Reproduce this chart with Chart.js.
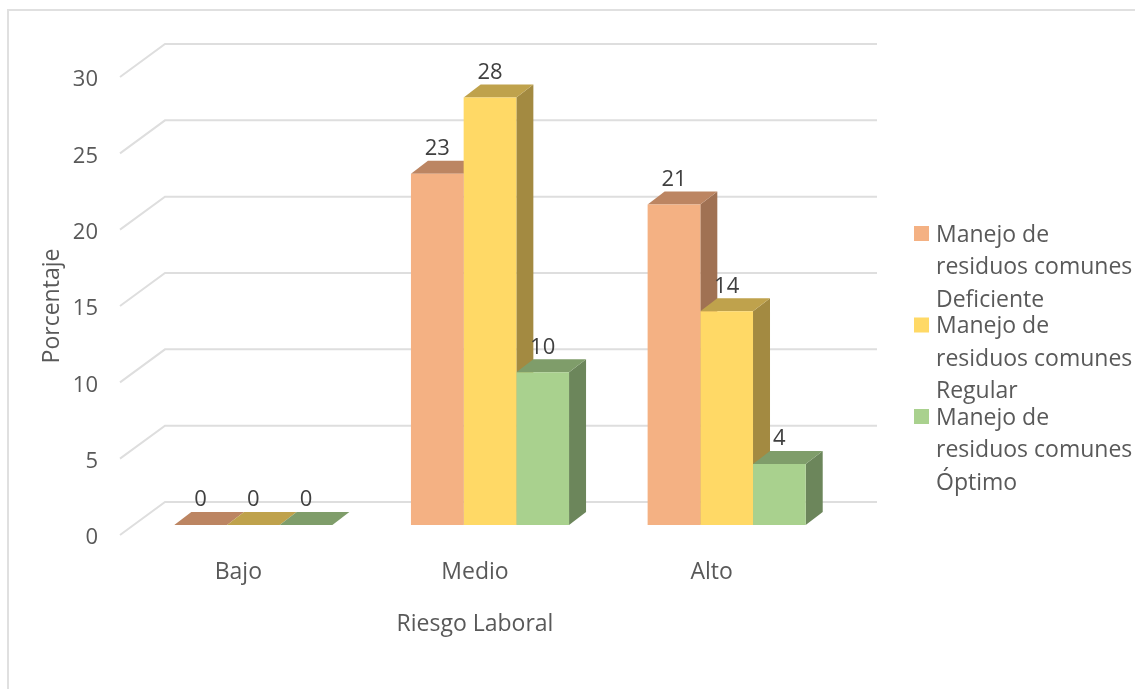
<!DOCTYPE html>
<html lang="es">
  <head>
    <meta charset="UTF-8">
    <title>Riesgo Laboral</title>
    <style>
      html, body { margin: 0; padding: 0; background: #fff; }
      canvas { display: block; }
    </style>
    <script src="https://cdn.jsdelivr.net/npm/chart.js"></script>
  </head>

  <body>
    <canvas id="myChart" width="1135" height="689"></canvas>

<script>
  const categories = ['Bajo', 'Medio', 'Alto'];
  const deficiente = [0, 23, 21];
  const regular = [0, 28, 14];
  const optimo = [0, 10, 4];

  const legendLines = [
    ['Manejo de', 'residuos comunes', 'Deficiente'],
    ['Manejo de', 'residuos comunes', 'Regular'],
    ['Manejo de', 'residuos comunes', 'Óptimo'],
  ];

  const frontColors = ['#F4B183', '#FFD966', '#A9D18E'];
  const topColors = ['#BC8562', '#BFA24C', '#7F9D6A'];
  const sideColors = ['#A07153', '#A38A41', '#6C865B'];

  const fontName = '"Open Sans", sans-serif';

  // the bars stand part way into the floor, the wall is at the back of it
  const barShift = { x: 15, y: -10 };
  const depth = { x: 17, y: -13 };
  const wall = { x: 45, y: -33, right: 877 };

  function face(ctx, color, points) {
    ctx.fillStyle = color;
    ctx.beginPath();
    points.forEach((p, i) => i ? ctx.lineTo(p[0], p[1]) : ctx.moveTo(p[0], p[1]));
    ctx.closePath();
    ctx.fill();
  }

  const box3d = {
    id: 'box3d',
    beforeDraw(chart) {
      const ctx = chart.ctx;
      ctx.save();
      // chart frame
      ctx.strokeStyle = '#E0E0E0';
      ctx.lineWidth = 2;
      ctx.beginPath();
      ctx.moveTo(8, 689);
      ctx.lineTo(8, 10);
      ctx.lineTo(1135, 10);
      ctx.stroke();

      // wall lines, one per tick of the y axis
      const area = chart.chartArea;
      const y = chart.scales.y;
      ctx.strokeStyle = '#DEDEDE';
      y.ticks.forEach((t) => {
        const py = y.getPixelForValue(t.value);
        ctx.beginPath();
        ctx.moveTo(area.left, py);
        ctx.lineTo(area.left + wall.x, py + wall.y);
        ctx.lineTo(wall.right, py + wall.y);
        ctx.stroke();
      });
      ctx.restore();

      // legend
      ctx.save();
      ctx.font = '23px ' + fontName;
      ctx.textBaseline = 'middle';
      legendLines.forEach((lines, i) => {
        const top = 234 + i * 91.5;
        ctx.fillStyle = frontColors[i];
        ctx.fillRect(914, top - 8, 15, 15);
        ctx.fillStyle = '#595959';
        lines.forEach((line, j) => ctx.fillText(line, 936, top + 1 + j * 32.5));
      });
      ctx.restore();
    },
    beforeDatasetsDraw(chart) {
      const ctx = chart.ctx;
      ctx.save();
      ctx.translate(barShift.x, barShift.y);
      // top and side faces go below the fronts, the library draws those next
      chart.data.datasets.forEach((ds, i) => {
        chart.getDatasetMeta(i).data.forEach((bar) => {
          const l = bar.x - bar.width / 2;
          const r = bar.x + bar.width / 2;
          face(ctx, sideColors[i], [[r, bar.y], [r + depth.x, bar.y + depth.y], [r + depth.x, bar.base + depth.y], [r, bar.base]]);
          face(ctx, topColors[i], [[l, bar.y], [l + depth.x, bar.y + depth.y], [r + depth.x, bar.y + depth.y], [r, bar.y]]);
        });
      });
    },
    afterDatasetsDraw(chart) {
      const ctx = chart.ctx;
      ctx.font = '22px ' + fontName;
      ctx.textAlign = 'center';
      ctx.textBaseline = 'middle';
      ctx.fillStyle = '#404040';
      chart.data.datasets.forEach((ds, i) => {
        chart.getDatasetMeta(i).data.forEach((bar, j) => {
          ctx.fillText(ds.data[j], bar.x, bar.y - 25);
        });
      });
      ctx.restore();
    },
  };

  new Chart(document.getElementById('myChart'), {
    type: 'bar',
    data: {
      labels: categories,
      datasets: [
        { label: legendLines[0].join(' '), data: deficiente, backgroundColor: frontColors[0] },
        { label: legendLines[1].join(' '), data: regular, backgroundColor: frontColors[1] },
        { label: legendLines[2].join(' '), data: optimo, backgroundColor: frontColors[2] },
      ],
    },
    options: {
      responsive: false,
      animation: false,
      clip: false,
      barPercentage: 1,
      categoryPercentage: 0.668,
      layout: { padding: { left: 0, right: 305, top: 77, bottom: 0 } },
      plugins: { legend: { display: false }, tooltip: { enabled: false } },
      scales: {
        x: {
          grid: { display: false },
          border: { display: false },
          ticks: { color: '#595959', font: { family: fontName, size: 23 }, padding: 16 },
          title: {
            display: true,
            text: 'Riesgo Laboral',
            color: '#595959',
            font: { family: fontName, size: 23 },
            padding: { top: 0, bottom: 51 },
          },
          afterFit(scale) { scale.height = 154; },
        },
        y: {
          min: 0,
          max: 30,
          grid: { display: false },
          border: { display: false },
          ticks: { stepSize: 5, color: '#595959', font: { family: fontName, size: 22 }, padding: 14, labelOffset: 3 },
          title: {
            display: true,
            text: 'Porcentaje',
            color: '#595959',
            font: { family: fontName, size: 23 },
            padding: { top: 39, bottom: 0 },
          },
          afterFit(scale) { scale.width = 120; },
        },
      },
    },
    plugins: [box3d],
  });
</script>

  </body>
</html>
